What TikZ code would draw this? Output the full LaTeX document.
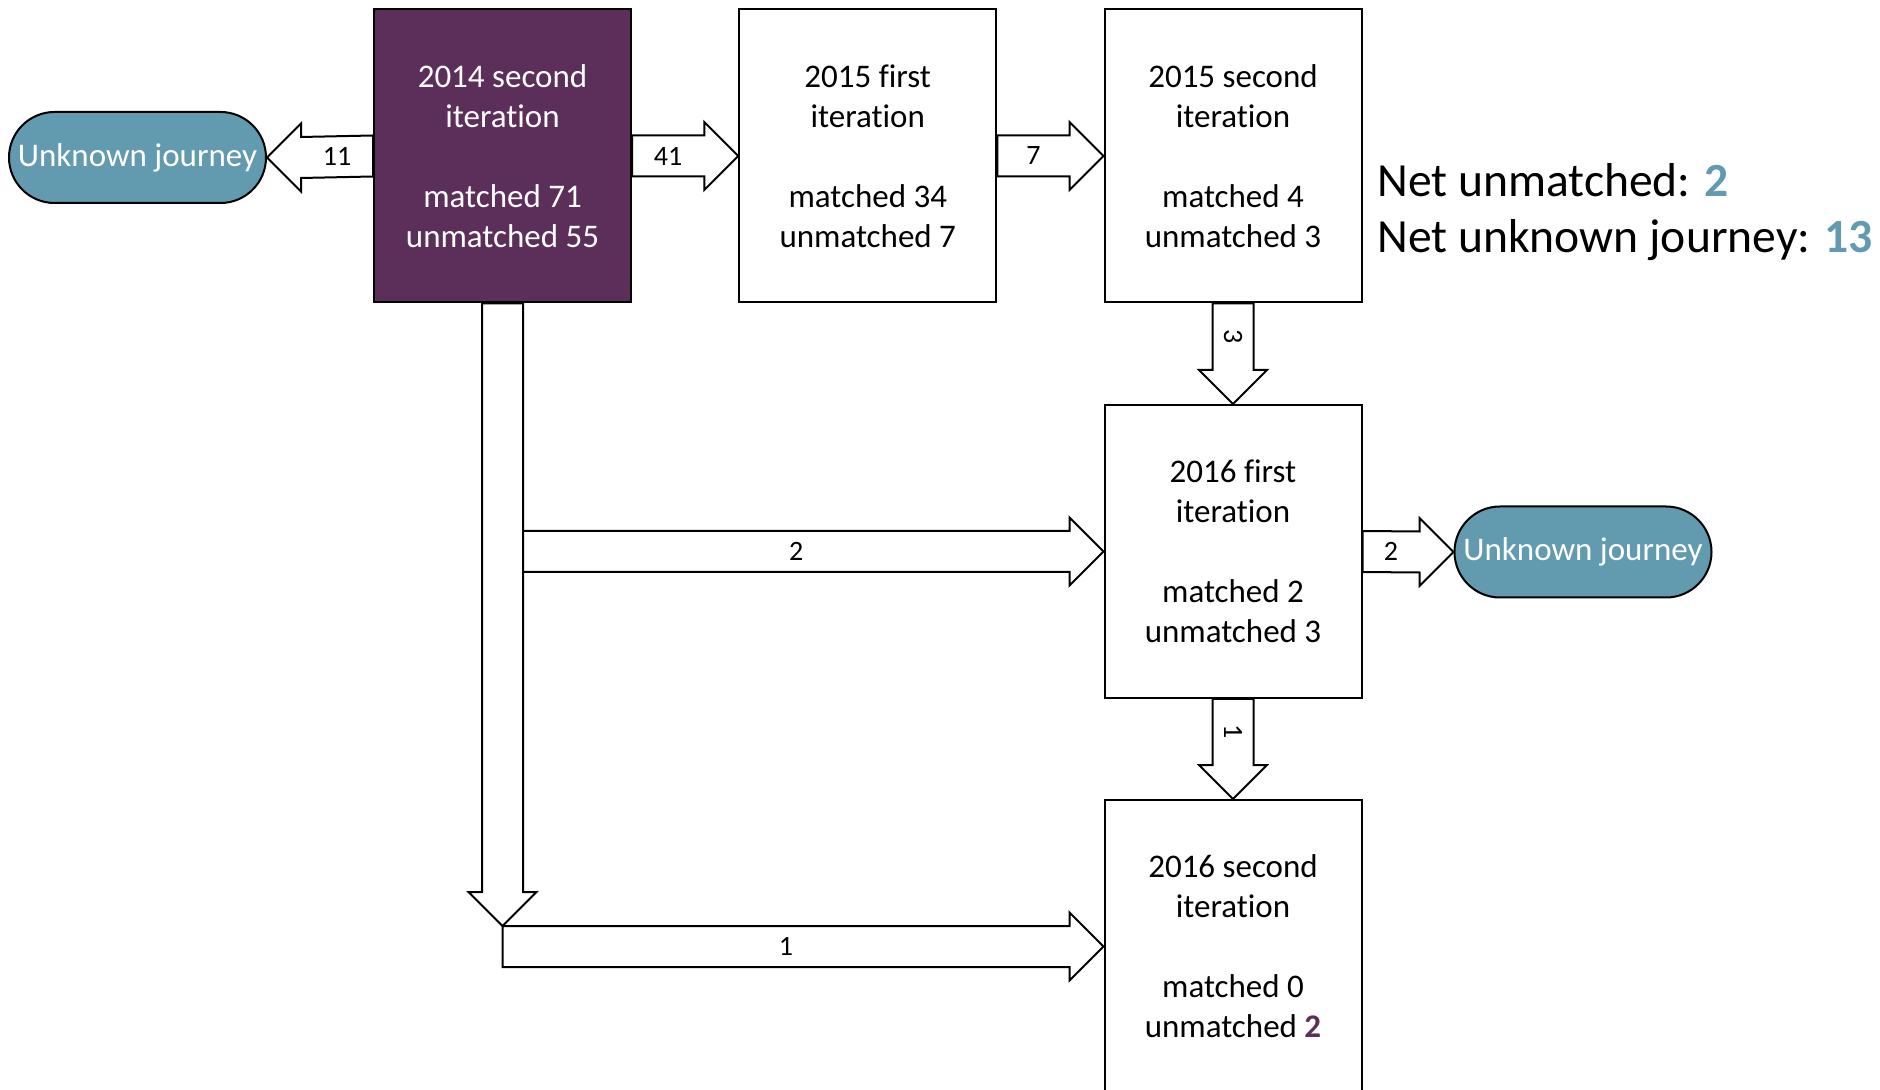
\documentclass[tikz,border=0pt]{standalone}
\usepackage{fontspec}
\setmainfont{Carlito}[Ligatures={NoCommon,NoRare}]
\usetikzlibrary{calc}
\definecolor{vpurple}{HTML}{5C2F5B}
\definecolor{vteal}{HTML}{629BB0}
\tikzset{
  blk/.style={draw, fill=white, line width=1pt, line join=miter},
  elab/.style={inner sep=0pt, font=\fontsize{14}{16}\selectfont},
  box/.style={draw, line width=1pt, minimum width=128.5pt, minimum height=146.5pt, inner sep=0pt, align=center, font=\fontsize{16.5}{20}\selectfont},
  uj/.style={draw, fill=vteal, text=white, line width=1pt, minimum width=128.5pt, minimum height=45.5pt, rounded corners=22.75pt, inner sep=0pt, font=\fontsize{16.5}{20}\selectfont},
  nettext/.style={inner sep=0pt, font=\fontsize{23.8}{28}\selectfont}
}
% horizontal block arrow: name, start, tip, direction (1 right, -1 left), label
\newcommand\harr[5]{%
  \draw[blk] ($(#2)+(0,20.5)$) -- ($(#3)+({-34*#4},20.5)$) -- ($(#3)+({-34*#4},34)$) -- (#3) -- ($(#3)+({-34*#4},-34)$) -- ($(#3)+({-34*#4},-20.5)$) -- ($(#2)+(0,-20.5)$) -- cycle;
  \node[elab] (#1) at ($(#2)!0.5!(#3)+({-17*#4},0)$) {#5};}
% vertical (downward) block arrow: start, tip
\newcommand\varrow[2]{%
  \draw[blk] ($(#1)+(-20.5,0)$) -- ($(#2)+(-20.5,-34)$) -- ($(#2)+(-34,-34)$) -- (#2) -- ($(#2)+(34,-34)$) -- ($(#2)+(20.5,-34)$) -- ($(#1)+(20.5,0)$) -- cycle;}
\begin{document}
\begin{tikzpicture}[x=0.5pt, y=-0.5pt]
\useasboundingbox (0,0) rectangle (1880,1090);
\clip (0,0) rectangle (1880,1090);

% boxes
\node[box, fill=vpurple, text=white] (b14) at (502.5,156) {2014 second\\iteration\\[20pt]matched 71\\unmatched 55};
\node[box, fill=white] (b15a) at (867.75,156) {2015 first\\iteration\\[20pt]matched 34\\unmatched 7};
\node[box, fill=white] (b15b) at (1233,156) {2015 second\\iteration\\[20pt]matched 4\\unmatched 3};
\node[box, fill=white] (b16a) at (1233,551.5) {2016 first\\iteration\\[20pt]matched 2\\unmatched 3};
\node[box, fill=white] (b16b) at (1233,946.5) {2016 second\\iteration\\[20pt]matched 0\\unmatched \textbf{\color{vpurple}2}};

\node[uj] (uj1) at (137.5,157.5) {Unknown journey};
\node[uj] (uj2) at (1583,552) {Unknown journey};

\node[nettext, anchor=base west] (net1) at (1377,197) {Net unmatched: \textbf{\color{vteal}2}};
\node[nettext, anchor=base west] (net2) at (1377,253) {Net unknown journey: \textbf{\color{vteal}13}};

% helper coordinates
\coordinate (j) at (b14.south |- b16b.west);
\coordinate (jt) at ($(j)+(0,-20.5)$);
\coordinate (s2) at ([xshift=10.25pt]b14.south |- b16a.west);

% connectors
\harr{l11}{b14.west}{uj1.east}{-1}{11}
\harr{l41}{b14.east}{b15a.west}{1}{41}
\harr{l7}{b15a.east}{b15b.west}{1}{7}
\varrow{b14.south}{jt}
\harr{l2a}{s2}{b16a.west}{1}{2}
\harr{l1a}{j}{b16b.west}{1}{1}
\harr{l2b}{b16a.east}{uj2.west}{1}{2}
\varrow{b15b.south}{b16a.north}
\node[elab, rotate=-90] (l3) at ($(b15b.south)!0.5!(b16a.north)+(0,-17)$) {3};
\varrow{b16a.south}{b16b.north}
\node[elab, rotate=-90] (l1b) at ($(b16a.south)!0.5!(b16b.north)+(0,-17)$) {1};
\end{tikzpicture}
\end{document}
